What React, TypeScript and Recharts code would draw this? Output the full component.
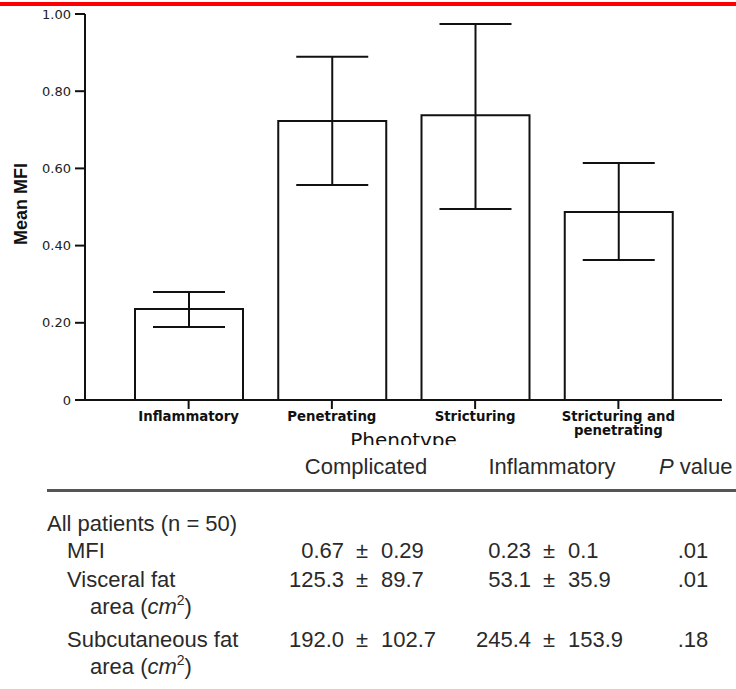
import React from "react";
import { BarChart, Bar, XAxis, YAxis, ErrorBar } from "recharts";

const categories = ["Inflammatory", "Penetrating", "Stricturing", "Stricturing and penetrating"];
const categoryLines = [["Inflammatory"], ["Penetrating"], ["Stricturing"], ["Stricturing and", "penetrating"]];
const meanMFI = [0.236, 0.723, 0.738, 0.487];
const upperMFI = [0.28, 0.889, 0.974, 0.614];
const lowerMFI = [0.189, 0.557, 0.495, 0.363];
const yTicks = [0, 0.2, 0.4, 0.6, 0.8, 1.0];
const yTickLabels = ["0", "0.20", "0.40", "0.60", "0.80", "1.00"];
const xTitle = "Phenotype";
const yTitle = "Mean MFI";

const tableHeaders = ["Complicated", "Inflammatory", "P value"];
const tableGroup = "All patients (n = 50)";
const rowLabels = ["MFI", "Visceral fat", "Subcutaneous fat"];
const rowSubLabels = ["", "area", "area"];
const complicatedMean = ["0.67", "125.3", "192.0"];
const complicatedSD = ["0.29", "89.7", "102.7"];
const inflammatoryMean = ["0.23", "53.1", "245.4"];
const inflammatorySD = ["0.1", "35.9", "153.9"];
const pValues = [".01", ".01", ".18"];

const data = categories.map((name, i) => ({
  name,
  mean: meanMFI[i],
  err: [meanMFI[i] - lowerMFI[i], upperMFI[i] - meanMFI[i]],
}));

const INK = "#111";
const TXT = "#2a2a2a";

const XTick = (props: any) => {
  const { x, y, payload } = props;
  const idx = categories.indexOf(payload.value);
  const lines = idx >= 0 ? categoryLines[idx] : [String(payload.value)];
  return (
    <text x={x} y={y} textAnchor="middle" fontFamily="DejaVu Sans" fontWeight="bold" fontSize={13.3} fill={INK}>
      {lines.map((l, i) => (
        <tspan key={i} x={x} dy={i === 0 ? 10 : 13.5}>
          {l}
        </tspan>
      ))}
    </text>
  );
};

const YTick = (props: any) => {
  const { x, y, payload } = props;
  const idx = yTicks.indexOf(payload.value);
  const label = idx >= 0 ? yTickLabels[idx] : String(payload.value);
  return (
    <text x={x} y={y} dy={4.5} textAnchor="end" fontFamily="DejaVu Sans" fontSize={13} fill="#222">
      {label}
    </text>
  );
};

const XTitle = (props: any) => {
  const vb = props.viewBox ?? { x: 85, y: 400, width: 637, height: 60 };
  return (
    <text x={vb.x + vb.width / 2} y={vb.y + 47} textAnchor="middle" fontFamily="DejaVu Sans" fontSize={20} fill={INK}>
      {xTitle}
    </text>
  );
};

const YTitle = (props: any) => {
  const vb = props.viewBox ?? { x: 0, y: 14, width: 85, height: 386 };
  const cx = vb.x + 27;
  const cy = vb.y + vb.height / 2 - 3;
  return (
    <text
      x={cx}
      y={cy}
      transform={`rotate(-90 ${cx} ${cy})`}
      textAnchor="middle"
      fontFamily="Liberation Sans"
      fontWeight="bold"
      fontSize={18}
      fill={INK}
    >
      {yTitle}
    </text>
  );
};

const tableFont = { fontFamily: "Liberation Sans", fontSize: 22, fill: TXT } as const;

const ValueCell = ({ pmX, y, mean, sd }: { pmX: number; y: number; mean: string; sd: string }) => (
  <g>
    <text x={pmX - 12} y={y} textAnchor="end" {...tableFont}>
      {mean}
    </text>
    <text x={pmX} y={y} {...tableFont}>
      ±
    </text>
    <text x={pmX + 25} y={y} {...tableFont}>
      {sd}
    </text>
  </g>
);

const AreaLabel = ({ x, y }: { x: number; y: number }) => (
  <text x={x} y={y} {...tableFont}>
    {"area ("}
    <tspan fontStyle="italic">cm</tspan>
    <tspan fontSize={14} dy={-9}>
      2
    </tspan>
    <tspan dy={9}>)</tspan>
  </text>
);

export default function App() {
  const rowY = [558, 587, 647];
  const subY = [0, 614, 674];
  return (
    <div style={{ position: "absolute", left: 0, top: 0, width: 736, height: 689, background: "#fff", overflow: "hidden" }}>
      <div style={{ position: "absolute", left: 0, top: 0 }}>
        <BarChart width={736} height={460} data={data} margin={{ top: 14, right: 14, left: 0, bottom: 0 }} barSize={108}>
          <XAxis
            dataKey="name"
            height={60}
            padding={{ left: 32, right: 32 }}
            axisLine={{ stroke: INK, strokeWidth: 2 }}
            tickLine={{ stroke: INK, strokeWidth: 2 }}
            tickSize={9}
            interval={0}
            tick={<XTick />}
            label={<XTitle />}
          />
          <YAxis
            width={85}
            domain={[0, 1]}
            ticks={yTicks}
            interval={0}
            tickSize={10}
            tickMargin={4}
            axisLine={{ stroke: INK, strokeWidth: 2 }}
            tickLine={{ stroke: INK, strokeWidth: 2 }}
            tick={<YTick />}
            label={<YTitle />}
          />
          <Bar dataKey="mean" fill="#fff" stroke={INK} strokeWidth={2} isAnimationActive={false}>
            <ErrorBar dataKey="err" width={36} stroke={INK} strokeWidth={2} direction="y" isAnimationActive={false} />
          </Bar>
        </BarChart>
      </div>
      <svg width={736} height={689} style={{ position: "absolute", left: 0, top: 0 }}>
        <rect x={0} y={2} width={736} height={4} fill="#f00" />
        <rect x={0} y={445} width={736} height={244} fill="#fff" />
        <text x={366} y={474} textAnchor="middle" {...tableFont}>
          {tableHeaders[0]}
        </text>
        <text x={552} y={474} textAnchor="middle" {...tableFont}>
          {tableHeaders[1]}
        </text>
        <text x={659} y={474} {...tableFont}>
          <tspan fontStyle="italic">{tableHeaders[2].charAt(0)}</tspan>
          {tableHeaders[2].slice(1)}
        </text>
        <rect x={47} y={489} width={689} height={3} fill="#555" />
        <text x={47} y={531} {...tableFont}>
          {tableGroup}
        </text>
        {rowLabels.map((lab, i) => (
          <g key={i}>
            <text x={67} y={rowY[i]} {...tableFont}>
              {lab}
            </text>
            {rowSubLabels[i] ? <AreaLabel x={90} y={subY[i]} /> : null}
            <ValueCell pmX={356} y={rowY[i]} mean={complicatedMean[i]} sd={complicatedSD[i]} />
            <ValueCell pmX={543} y={rowY[i]} mean={inflammatoryMean[i]} sd={inflammatorySD[i]} />
            <text x={693} y={rowY[i]} textAnchor="middle" {...tableFont}>
              {pValues[i]}
            </text>
          </g>
        ))}
      </svg>
    </div>
  );
}
